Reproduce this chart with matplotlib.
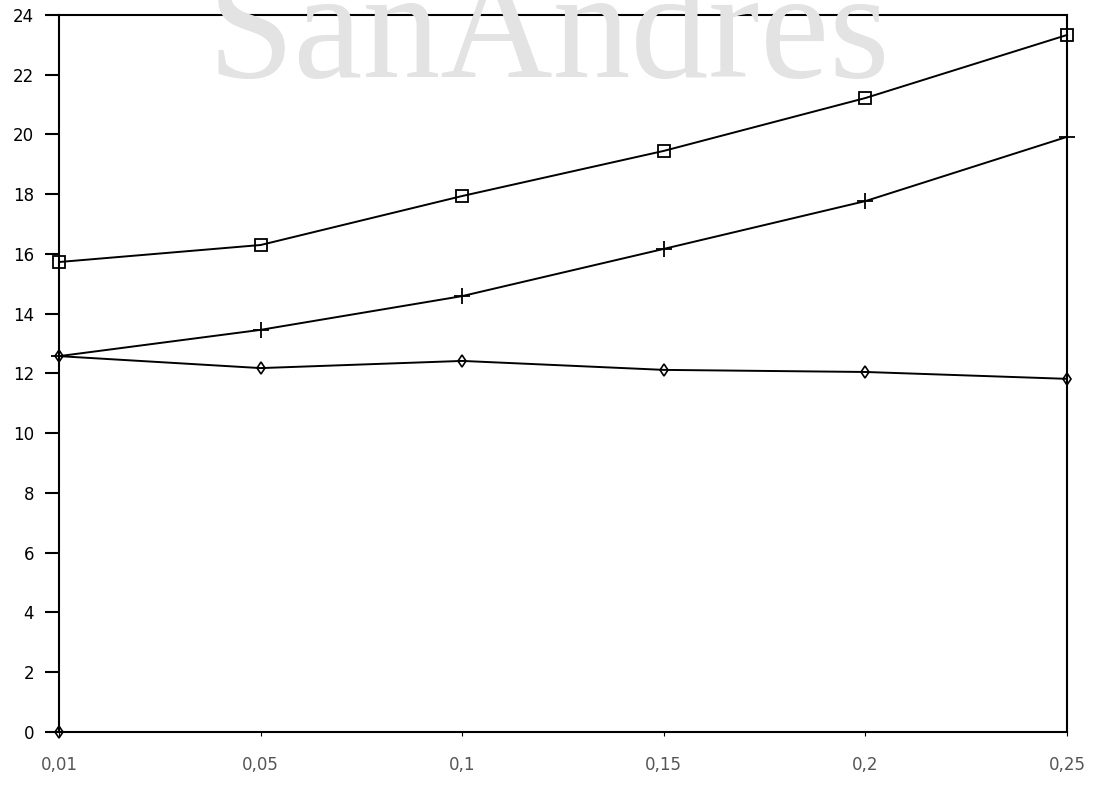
import matplotlib.pyplot as plt

# x categories (equally spaced on the axis)
x_labels = ['0,01', '0,05', '0,1', '0,15', '0,2', '0,25']
y_ticks = [0, 2, 4, 6, 8, 10, 12, 14, 16, 18, 20, 22, 24]

serie_cuadrado = [15.73, 16.3, 17.94, 19.45, 21.22, 23.33]
serie_cruz = [12.58, 13.46, 14.59, 16.17, 17.77, 19.92]
serie_rombo = [12.58, 12.18, 12.42, 12.12, 12.05, 11.82]
serie_cero = [0.0]

fig = plt.figure(figsize=(10.97, 7.87), dpi=100)
ax = fig.add_axes([0.0538, 0.0699, 0.9189, 0.9111])
ax.set_facecolor('none')

# faint watermark behind the plot
fig.text(0.5, 0.902, 'SanAndres', family='Liberation Serif', fontsize=112,
         color='#e3e3e3', ha='center', va='baseline', zorder=0)

x = list(range(len(x_labels)))
ax.plot(x, serie_cuadrado, color='black', lw=1.4, marker='s', ms=9,
        mfc='none', mec='black', mew=1.3, clip_on=False)
ax.plot(x, serie_cruz, color='black', lw=1.4, marker='+', ms=11,
        mew=1.3, clip_on=False)
ax.plot(x, serie_rombo, color='black', lw=1.4, marker='d', ms=6,
        mfc='none', mec='black', mew=1.2, clip_on=False)
ax.plot(x[:len(serie_cero)], serie_cero, ls='none', marker='d', ms=6,
        mfc='none', mec='black', mew=1.2, clip_on=False)

ax.set_xlim(0, len(x_labels) - 1)
ax.set_ylim(0, 24)
ax.set_xticks(x)
ax.set_xticklabels(x_labels)
ax.set_yticks(y_ticks)

for s in ax.spines.values():
    s.set_linewidth(1.5)
ax.tick_params(axis='y', direction='out', length=10, width=1.5, pad=8,
               labelsize=12)
ax.tick_params(axis='x', direction='out', length=3, width=0.8, pad=14,
               labelsize=12, labelcolor='#555555')

fig.savefig('out.png', dpi=100)
